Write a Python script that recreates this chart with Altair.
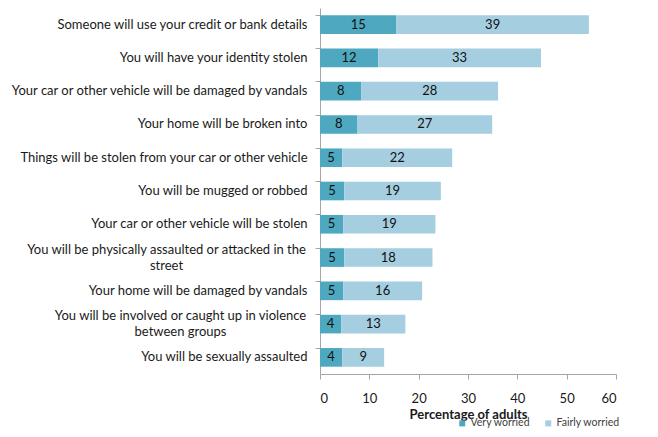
import pandas as pd
import altair as alt

# Worry about crime, percentage of adults
risks = [
    "Someone will use your credit or bank details",
    "You will have your identity stolen",
    "Your car or other vehicle will be damaged by vandals",
    "Your home will be broken into",
    "Things will be stolen from your car or other vehicle",
    "You will be mugged or robbed",
    "Your car or other vehicle will be stolen",
    "You will be physically assaulted or attacked in the|street",
    "Your home will be damaged by vandals",
    "You will be involved or caught up in violence|between groups",
    "You will be sexually assaulted",
]
very = [15.5, 11.8, 8.4, 7.6, 4.5, 4.9, 4.7, 4.9, 4.7, 4.3, 4.5]
fairly = [39.0, 33.0, 27.7, 27.3, 22.3, 19.6, 18.7, 17.9, 16.0, 13.0, 8.5]
very_lbl = [15, 12, 8, 8, 5, 5, 5, 5, 5, 4, 4]
fairly_lbl = [39, 33, 28, 27, 22, 19, 19, 18, 16, 13, 9]

levels = ["Very worried", "Fairly worried"]
colors = ["#4ea8bf", "#a5cee0"]

rows = []
for i, r in enumerate(risks):
    rows.append({"risk": r, "level": levels[0], "rank": 0, "value": very[i], "label": str(very_lbl[i])})
    rows.append({"risk": r, "level": levels[1], "rank": 1, "value": fairly[i], "label": str(fairly_lbl[i])})
df = pd.DataFrame(rows)

FONT = "Lato"
two_lines = "indexof(datum.value, '|') >= 0"

y_axis = alt.Axis(
    title=None,
    labelExpr="split(datum.value, '|')",
    labelFont=FONT, labelFontSize=13, labelColor="#1a1a1a",
    labelLineHeight=16, labelLimit=400,
    labelAlign={"condition": {"test": two_lines, "value": "center"}, "value": "right"},
    labelOffset={"condition": {"test": two_lines, "value": -8}, "value": 0},
    labelPadding={
        "condition": [
            {"test": "indexof(datum.value, 'street') >= 0", "value": 149},
            {"test": "indexof(datum.value, 'groups') >= 0", "value": 135},
        ],
        "value": 8,
    },
    bandPosition=0,
    domainColor="#a6a6a6", tickColor="#a6a6a6", tickSize=5,
)

y = alt.Y("risk:N", sort=risks,
          scale=alt.Scale(paddingInner=0.44, paddingOuter=0.22),
          axis=y_axis)

base = alt.Chart(df)

bars = base.mark_bar().encode(
    y=y,
    x=alt.X("value:Q", stack="zero",
            scale=alt.Scale(domain=[0, 60]),
            axis=alt.Axis(values=[0, 10, 20, 30, 40, 50, 60], title="Percentage of adults",
                          grid=False, domainColor="#a6a6a6", tickColor="#a6a6a6", tickSize=5,
                          labelFont=FONT, labelFontSize=13, labelColor="#1a1a1a", labelPadding=13,
                          titleFont=FONT, titleFontSize=13, titleFontWeight="bold", titleColor="#1a1a1a",
                          titlePadding=3)),
    color=alt.Color("level:N", scale=alt.Scale(domain=levels, range=colors),
                    legend=alt.Legend(title=None, orient="none", legendX=137, legendY=410,
                                      direction="horizontal", symbolType="square", symbolSize=36,
                                      labelFont=FONT, labelFontSize=10.5, labelColor="#404040",
                                      labelOffset=3, columnPadding=12, symbolStrokeWidth=0,
                                      padding=0)),
    order=alt.Order("rank:Q"),
)

text = base.transform_stack(
    stack="value", groupby=["risk"], sort=[alt.SortField("rank")], as_=["x0", "x1"]
).transform_calculate(
    mid="(datum.x0 + datum.x1) / 2"
).mark_text(font=FONT, fontSize=13, color="#111111").encode(
    y=y,
    x=alt.X("mid:Q"),
    text="label:N",
)

chart = (bars + text).properties(
    width=296, height=366,
    autosize=alt.AutoSizeParams(type="none"),
    padding={"left": 312, "top": 0, "right": 10, "bottom": 55},
).configure_view(stroke=None)

chart.save("out.html", embed_options={"renderer": "svg", "actions": False})
